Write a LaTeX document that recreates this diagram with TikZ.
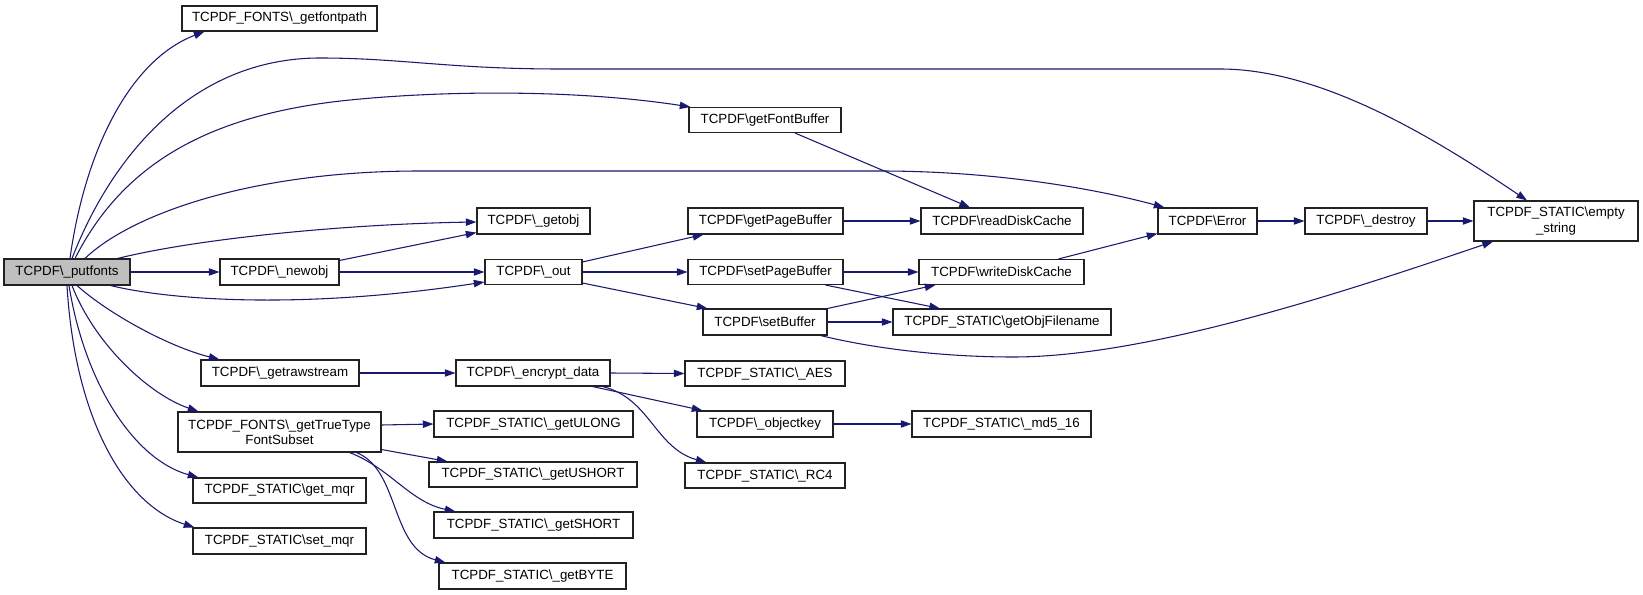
\documentclass[tikz,border=0pt]{standalone}
\usepackage{fontspec}
\setmainfont{Liberation Sans}
\usetikzlibrary{calc,arrows.meta}
\definecolor{edgecol}{HTML}{191970}
\definecolor{boxline}{HTML}{222222}
\tikzset{
  box/.style={draw=boxline, line width=0.8pt, inner sep=0pt, minimum height=25*0.75pt,
    font=\fontsize{10}{11.5}\selectfont, align=center, fill=white},
  bw/.style={minimum width=#1*0.75pt},
  bh/.style={minimum height=#1*0.75pt},
  edge/.style={draw=edgecol, line width=0.8pt, -{Triangle[length=8pt,width=5.5pt]}}
}
\begin{document}
\begin{tikzpicture}[x=0.75pt,y=-0.75pt]
\useasboundingbox[fill=white] (0,0) rectangle (1643,595);
% nodes
\node[box,bw=126,bh=26,fill=gray!50] (putfonts) at (67,272) {TCPDF\textbackslash\_putfonts};
\node[box,bw=195] (getfontpath) at (279.5,18.5) {TCPDF\_FONTS\textbackslash\_getfontpath};
\node[box,bw=152] (getFontBuffer) at (765,120) {TCPDF\textbackslash getFontBuffer};
\node[box,bw=113,bh=26] (getobj) at (533.5,221) {TCPDF\textbackslash\_getobj};
\node[box,bw=119,bh=26] (newobj) at (279.5,272) {TCPDF\textbackslash\_newobj};
\node[box,bw=97] (out) at (533.5,272) {TCPDF\textbackslash\_out};
\node[box,bw=155,bh=26] (getPageBuffer) at (765.5,221) {TCPDF\textbackslash getPageBuffer};
\node[box,bw=155] (setPageBuffer) at (765.5,272) {TCPDF\textbackslash setPageBuffer};
\node[box,bw=124,bh=26] (setBuffer) at (765,322) {TCPDF\textbackslash setBuffer};
\node[box,bw=162,bh=26] (readDiskCache) at (1002,221) {TCPDF\textbackslash readDiskCache};
\node[box,bw=165] (writeDiskCache) at (1001.5,272) {TCPDF\textbackslash writeDiskCache};
\node[box,bw=218,bh=26] (getObjFilename) at (1002,322) {TCPDF\_STATIC\textbackslash getObjFilename};
\node[box,bw=99,bh=26] (Error) at (1207.5,221) {TCPDF\textbackslash Error};
\node[box,bw=122,bh=26] (destroy) at (1366,221) {TCPDF\textbackslash\_destroy};
\node[box,bw=164,bh=40] (empty) at (1556,221) {TCPDF\_STATIC\textbackslash empty\\\_string};
\node[box,bw=158,bh=26] (getrawstream) at (280,373) {TCPDF\textbackslash\_getrawstream};
\node[box,bw=154,bh=26] (encrypt) at (533,373) {TCPDF\textbackslash\_encrypt\_data};
\node[box,bw=160] (AES) at (765,373.5) {TCPDF\_STATIC\textbackslash\_AES};
\node[box,bw=203,bh=40] (TTF) at (279.5,432) {TCPDF\_FONTS\textbackslash\_getTrueType\\FontSubset};
\node[box,bw=199,bh=26] (getULONG) at (533.5,424) {TCPDF\_STATIC\textbackslash\_getULONG};
\node[box,bw=136,bh=26] (objectkey) at (765,424) {TCPDF\textbackslash\_objectkey};
\node[box,bw=179,bh=26] (md5) at (1001.5,424) {TCPDF\_STATIC\textbackslash\_md5\_16};
\node[box,bw=208] (getUSHORT) at (533,474.5) {TCPDF\_STATIC\textbackslash\_getUSHORT};
\node[box,bw=160] (RC4) at (765,475.5) {TCPDF\_STATIC\textbackslash\_RC4};
\node[box,bw=173] (getmqr) at (279.5,490.5) {TCPDF\_STATIC\textbackslash get\_mqr};
\node[box,bw=199,bh=26] (getSHORT) at (533.5,525) {TCPDF\_STATIC\textbackslash\_getSHORT};
\node[box,bw=173,bh=26] (setmqr) at (279.5,541) {TCPDF\_STATIC\textbackslash set\_mqr};
\node[box,bw=187,bh=26] (getBYTE) at (532.5,576) {TCPDF\_STATIC\textbackslash\_getBYTE};
% edges from putfonts
\draw[edge] ($(putfonts.north)+(3,0)$) .. controls (85,150) and (130,60) .. ($(getfontpath.south)+(-75,0)$);
\draw[edge] ($(putfonts.north)+(5,0)$) .. controls (110,160) and (190,58) .. (320,58) .. controls (400,58) and (450,69) .. (560,69) -- (1220,69) .. controls (1320,69) and (1430,135) .. ($(empty.north)+(-29,0)$);
\draw[edge] ($(putfonts.north)+(8,0)$) .. controls (120,170) and (200,115) .. (350,100) .. controls (450,90) and (580,90) .. ($(getFontBuffer.north west)+(2,0)$);
\draw[edge] ($(putfonts.north)+(18,0)$) .. controls (130,215) and (250,171) .. (420,171) -- (880,171) .. controls (1000,171) and (1100,190) .. ($(Error.north west)+(7,0)$);
\draw[edge] ($(putfonts.north east)+(-13,0)$) .. controls (200,238) and (350,224) .. ($(getobj.west)+(0,1)$);
\draw[edge] (putfonts.east) -- (newobj.west);
\draw[edge] ($(putfonts.south east)+(-20,0)$) .. controls (170,300) and (300,310) .. ($(out.south west)+(0,-3)$);
\draw[edge] ($(putfonts.south)+(10,0)$) .. controls (110,315) and (170,347) .. ($(getrawstream.north west)+(19,0)$);
\draw[edge] ($(putfonts.south)+(5,0)$) .. controls (95,345) and (150,395) .. ($(TTF.north west)+(21,0)$);
\draw[edge] ($(putfonts.south)+(2,0)$) .. controls (85,385) and (135,460) .. ($(getmqr.north west)+(6,0)$);
\draw[edge] (putfonts.south) .. controls (75,420) and (125,505) .. ($(setmqr.north west)+(2,0)$);
% other edges
\draw[edge] ($(newobj.north east)+(0,2)$) -- ($(getobj.south west)+(0,-2)$);
\draw[edge] (newobj.east) -- (out.west);
\draw[edge] ($(out.north east)+(0,3)$) -- ($(getPageBuffer.south west)+(16,0)$);
\draw[edge] (out.east) -- (setPageBuffer.west);
\draw[edge] ($(out.south east)+(0,-2)$) -- ($(setBuffer.north west)+(5,0)$);
\draw[edge] ($(getFontBuffer.south)+(30,0)$) -- ($(readDiskCache.north)+(-32,0)$);
\draw[edge] (getPageBuffer.east) -- (readDiskCache.west);
\draw[edge] (setPageBuffer.east) -- (writeDiskCache.west);
\draw[edge] ($(setPageBuffer.south)+(60,0)$) -- ($(getObjFilename.north)+(-62,0)$);
\draw[edge] (setBuffer.north east) -- ($(writeDiskCache.south west)+(17,0)$);
\draw[edge] (setBuffer.east) -- (getObjFilename.west);
\draw[edge] ($(setBuffer.south east)+(-7,0)$) .. controls (880,350) and (950,357) .. (1013,357) .. controls (1150,357) and (1350,290) .. ($(empty.south)+(-63,0)$);
\draw[edge] ($(writeDiskCache.north east)+(-26,0)$) -- ($(Error.south west)+(0,-1)$);
\draw[edge] (Error.east) -- (destroy.west);
\draw[edge] (destroy.east) -- (empty.west);
\draw[edge] (getrawstream.east) -- (encrypt.west);
\draw[edge] (encrypt.east) -- (AES.west);
\draw[edge] ($(encrypt.south east)+(-18,0)$) -- ($(objectkey.north west)+(6,0)$);
\draw[edge] ($(encrypt.south east)+(-8,0)$) .. controls (650,398) and (655,448) .. ($(RC4.north west)+(22,0)$);
\draw[edge] (objectkey.east) -- (md5.west);
\draw[edge] ($(TTF.east)+(0,-7)$) -- (getULONG.west);
\draw[edge] ($(TTF.south east)+(0,-3)$) -- ($(getUSHORT.north west)+(19,0)$);
\draw[edge] ($(TTF.south)+(70,0)$) .. controls (390,468) and (410,502) .. ($(getSHORT.north west)+(22,0)$);
\draw[edge] ($(TTF.south)+(77,0)$) .. controls (400,470) and (390,548) .. ($(getBYTE.north west)+(7,0)$);
\end{tikzpicture}
\end{document}
